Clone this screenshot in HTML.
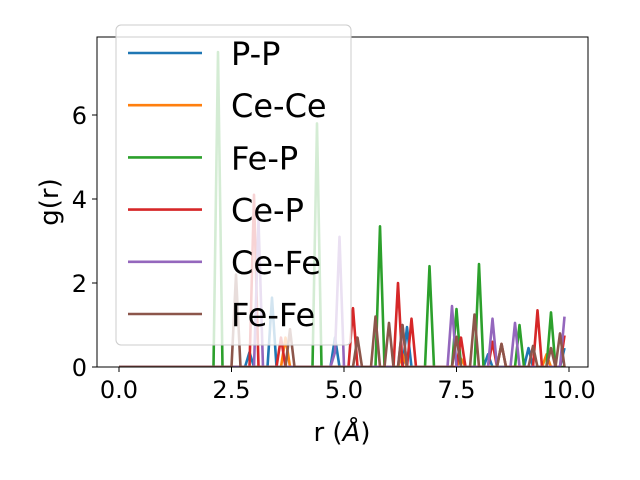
<!DOCTYPE html>
<html><head><meta charset="utf-8"><style>body{margin:0;background:#fff}svg{display:block;font-family:"DejaVu Sans","Liberation Sans",sans-serif}</style></head>
<body>
<svg id="chart" width="640" height="480" viewBox="0 0 640 480">
<defs><clipPath id="clip"><rect x="97" y="37" width="491" height="330"/></clipPath></defs>
<g id="plot" clip-path="url(#clip)"></g>
<rect x="97" y="37" width="491" height="330" fill="none" stroke="#000" stroke-width="1"/>
<g id="ticks"></g>
<text x="342" y="441" font-size="26" text-anchor="middle">r (<tspan font-style="italic">Å</tspan>)</text>
<text transform="translate(58,202) rotate(-90)" font-size="26" text-anchor="middle">g(r)</text>
<g id="legend"></g>
</svg>
<script>
const seriesNames = ["P-P","Ce-Ce","Fe-P","Ce-P","Ce-Fe","Fe-Fe"];
const seriesColors = ["#1f77b4","#ff7f0e","#2ca02c","#d62728","#9467bd","#8c564b"];
const ppR = [2.9,3.4,4.8,6.4,8.2,9.1,9.9];
const ppG = [0.35,1.65,0.7,0.95,0.3,0.45,0.45];
const ceceR = [3.7,6.3,7.6,9.5];
const ceceG = [0.7,0.3,0.2,0.3];
const fepR = [2.2,4.4,5.8,6.9,7.5,8.0,8.9,9.6];
const fepG = [7.5,5.8,3.35,2.4,1.38,2.45,1.0,1.3];
const cepR = [3.0,3.6,5.2,6.2,6.5,7.6,8.3,8.5,9.3,9.9];
const cepG = [4.1,0.7,1.4,2.0,1.15,0.7,0.6,0.55,1.35,0.75];
const cefeR = [3.1,4.8,4.9,6.3,7.4,8.3,8.8,9.9];
const cefeG = [3.5,0.35,3.1,1.0,1.45,1.15,1.05,1.2];
const fefeR = [2.6,3.8,5.3,5.7,6.0,6.3,7.5,7.9,8.5,9.2,9.6,9.8];
const fefeG = [2.2,0.9,0.7,1.2,1.05,1.0,0.72,1.25,0.55,0.5,0.45,0.8];
const xTicks = [0,2.5,5,7.5,10];
const xTickLabels = ["0.0","2.5","5.0","7.5","10.0"];
const yTicks = [0,2,4,6];
const yTickLabels = ["0","2","4","6"];
const peakR = [ppR,ceceR,fepR,cepR,cefeR,fefeR];
const peakG = [ppG,ceceG,fepG,cepG,cefeG,fefeG];

const NS="http://www.w3.org/2000/svg";
const xs = r => 119 + r*45;
const ys = g => 367 - g*42;
const plot = document.getElementById('plot');
const N = 100, step = 0.1;
for (let s=0;s<6;s++){
  const vals = new Array(N).fill(0);
  peakR[s].forEach((r,i)=>{const k=Math.round(r/step); if(k>=0&&k<N) vals[k]=Math.max(vals[k],peakG[s][i]);});
  let d="";
  for(let k=0;k<N;k++){d+=(k?"L":"M")+xs(k*step).toFixed(1)+","+ys(vals[k]).toFixed(1);}
  const p=document.createElementNS(NS,'path');
  p.setAttribute('d',d);p.setAttribute('fill','none');p.setAttribute('stroke',seriesColors[s]);
  p.setAttribute('stroke-width','2.6');p.setAttribute('stroke-linejoin','round');
  
  
  plot.appendChild(p);
}
const ticks=document.getElementById('ticks');
xTicks.forEach((v,i)=>{
  const l=document.createElementNS(NS,'line');
  l.setAttribute('x1',xs(v));l.setAttribute('x2',xs(v));l.setAttribute('y1',367);l.setAttribute('y2',372);l.setAttribute('stroke','#000');
  
  
  ticks.appendChild(l);
  const t=document.createElementNS(NS,'text');
  t.setAttribute('x',xs(v));t.setAttribute('y',398);t.setAttribute('font-size','24');t.setAttribute('text-anchor','middle');
  t.textContent=xTickLabels[i];
  
  
  ticks.appendChild(t);
});
yTicks.forEach((v,i)=>{
  const l=document.createElementNS(NS,'line');
  l.setAttribute('x1',92);l.setAttribute('x2',97);l.setAttribute('y1',ys(v));l.setAttribute('y2',ys(v));l.setAttribute('stroke','#000');
  
  
  ticks.appendChild(l);
  const t=document.createElementNS(NS,'text');
  t.setAttribute('x',87);t.setAttribute('y',ys(v)+9);t.setAttribute('font-size','24');t.setAttribute('text-anchor','end');
  t.textContent=yTickLabels[i];
  
  
  ticks.appendChild(t);
});
const leg=document.getElementById('legend');
const bg=document.createElementNS(NS,'rect');
bg.setAttribute('x',116);bg.setAttribute('y',25);bg.setAttribute('width',235);bg.setAttribute('height',320);bg.setAttribute('rx',5);
bg.setAttribute('fill','rgba(255,255,255,0.8)');bg.setAttribute('stroke','#ccc');


leg.appendChild(bg);
seriesNames.forEach((n,i)=>{
  const y=53+i*52.2;
  const l=document.createElementNS(NS,'line');
  l.setAttribute('x1',128);l.setAttribute('x2',202);l.setAttribute('y1',y);l.setAttribute('y2',y);
  l.setAttribute('stroke',seriesColors[i]);l.setAttribute('stroke-width','2.6');
  
  
  leg.appendChild(l);
  const t=document.createElementNS(NS,'text');
  t.setAttribute('x',231);t.setAttribute('y',y+12);t.setAttribute('font-size','32');
  t.textContent=n;
  
  
  leg.appendChild(t);
});
</script>
</body></html>
